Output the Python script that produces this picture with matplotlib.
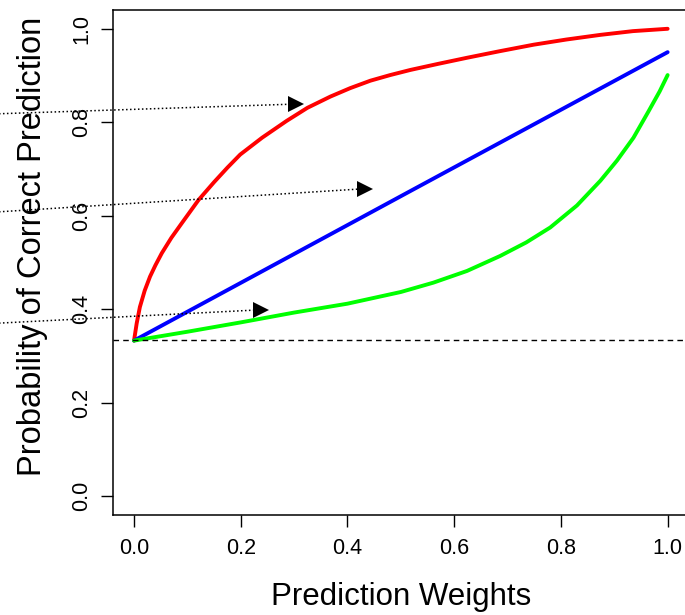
"""Probability of correct prediction vs prediction weights (three curves + chance line)."""
import matplotlib

matplotlib.use("Agg")
import matplotlib.pyplot as plt

plt.rcParams["font.family"] = ["Liberation Sans", "DejaVu Sans"]

# values
red_x = [0.0, 0.005, 0.011, 0.02, 0.03, 0.04, 0.052, 0.07, 0.09, 0.121, 0.15,
         0.175, 0.199, 0.24, 0.286, 0.325, 0.368, 0.405, 0.443, 0.48, 0.518,
         0.57, 0.624, 0.685, 0.749, 0.81, 0.874, 0.935, 1.0]
red_y = [0.333, 0.37, 0.405, 0.44, 0.47, 0.494, 0.520, 0.553, 0.585, 0.634, 0.672,
         0.703, 0.731, 0.767, 0.803, 0.831, 0.855, 0.873, 0.889, 0.901, 0.912,
         0.925, 0.938, 0.952, 0.966, 0.977, 0.987, 0.995, 1.0]

blue_x = [0.0, 0.518, 1.0]
blue_y = [0.333, 0.653, 0.95]

green_x = [0.0, 0.1, 0.2, 0.3, 0.4, 0.5, 0.561, 0.624, 0.686, 0.735, 0.780,
           0.83, 0.874, 0.905, 0.936, 0.964, 0.985, 1.0]
green_y = [0.333, 0.352, 0.372, 0.393, 0.412, 0.437, 0.457, 0.482, 0.514, 0.543,
           0.575, 0.622, 0.675, 0.718, 0.767, 0.823, 0.866, 0.901]

chance = 1 / 3

# dotted pointer lines: start (off the left edge) -> arrow head centre
arrow_start = [(-0.26, 0.818), (-0.26, 0.608), (-0.26, 0.370)]
arrow_head = [(0.303, 0.839), (0.433, 0.658), (0.238, 0.399)]

xticks = [0.0, 0.2, 0.4, 0.6, 0.8, 1.0]
yticks = [0.0, 0.2, 0.4, 0.6, 0.8, 1.0]


def main():
    fig = plt.figure(figsize=(6.85, 6.15), dpi=100)
    ax = fig.add_axes([0.1645, 0.1626, 0.8413, 0.821])

    ax.plot(red_x, red_y, color="#FF0000", linewidth=2.8, solid_capstyle="round",
            solid_joinstyle="round")
    ax.plot(blue_x, blue_y, color="#0000FF", linewidth=2.8, solid_capstyle="round")
    ax.plot(green_x, green_y, color="#00FF00", linewidth=2.8, solid_capstyle="round",
            solid_joinstyle="round")
    ax.axhline(chance, color="black", linewidth=1.0, linestyle=(0, (4, 3)))

    for (x0, y0), (x1, y1) in zip(arrow_start, arrow_head):
        ax.plot([x0, x1], [y0, y1], color="black", linewidth=1.1,
                linestyle=(0, (1, 1.6)), clip_on=False, zorder=4)
        ax.plot([x1], [y1], marker=">", markersize=12, color="black",
                markeredgewidth=0, clip_on=False, zorder=5)

    ax.set_xlim(-0.04, 1.04)
    ax.set_ylim(-0.04, 1.04)
    ax.set_xticks(xticks)
    ax.set_yticks(yticks)
    ax.set_xticklabels([f"{v:.1f}" for v in xticks])
    ax.set_yticklabels([f"{v:.1f}" for v in yticks], rotation=90, va="center")
    ax.tick_params(axis="both", direction="out", length=8.5, width=1.0,
                   labelsize=15.5, color="black")
    ax.tick_params(axis="x", pad=8)
    ax.tick_params(axis="y", pad=6)
    for s in ax.spines.values():
        s.set_linewidth(1.1)
        s.set_color("black")

    ax.set_xlabel("Prediction Weights", fontsize=22.5)
    ax.set_ylabel("Probability of Correct Prediction", fontsize=23.5)
    ax.xaxis.set_label_coords(0.5, -0.133)
    ax.yaxis.set_label_coords(-0.112, 0.533)

    fig.savefig("out.png", dpi=100)


if __name__ == "__main__":
    main()
